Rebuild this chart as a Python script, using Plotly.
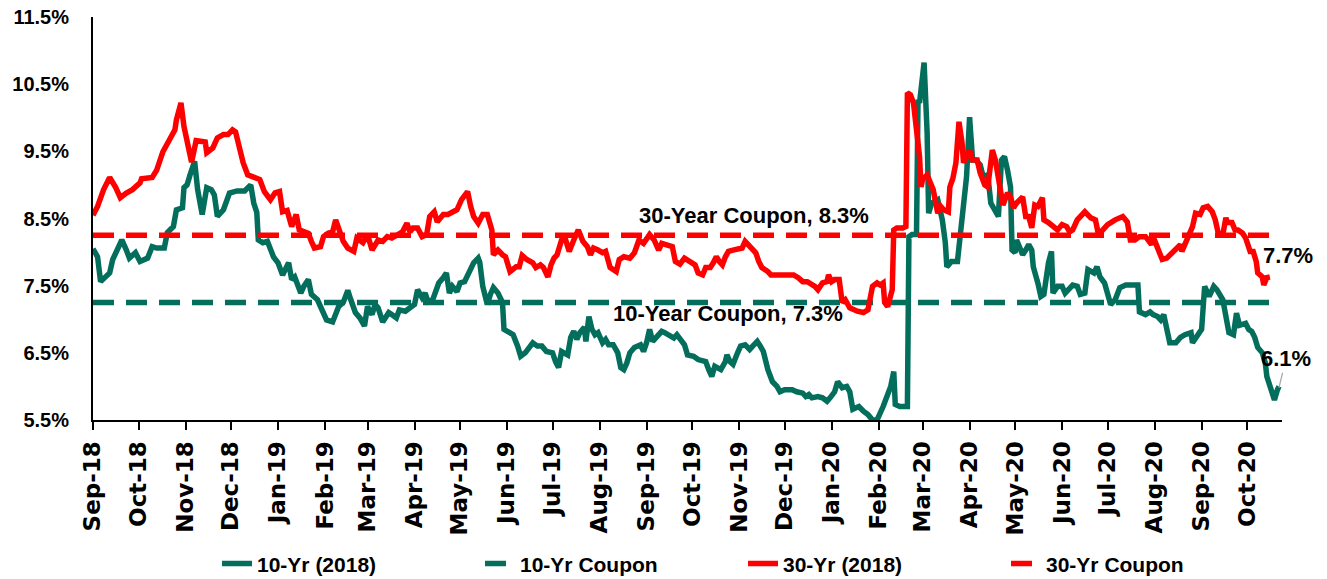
import pandas as pd
import plotly.graph_objects as go

# ---------------- data ----------------
start_date = "2018-09-01"
axis_end_day = 784

# 10-Yr (2018) yield, (days since start_date, yield %)
ten_yr_points = [
    (0,8.05),(3,7.93),(5,7.56),(8,7.62),(11,7.69),(13,7.89),(16,8.03),(19,8.18),(22,8.03),(24,7.91),
    (28,7.99),(31,7.86),(36,7.91),(39,8.08),(42,8.06),(47,8.06),(49,8.29),(53,8.38),(55,8.63),(59,8.66),
    (60,8.96),(62,9.00),(64,9.15),(67,9.35),(69,8.93),(72,8.56),(75,8.96),(78,8.93),(80,8.85),(82,8.53),
    (86,8.63),(90,8.88),(95,8.91),(100,8.91),(104,9.00),(106,8.73),(108,8.59),(109,8.18),(112,8.14),(115,8.16),
    (119,7.93),(122,7.84),(125,7.66),(129,7.84),(131,7.59),(133,7.63),(137,7.39),(139,7.49),(142,7.59),(144,7.37),
    (148,7.29),(151,7.14),(154,6.99),(158,6.96),(162,7.19),(165,7.25),(168,7.43),(170,7.29),(173,7.10),(176,7.02),
    (179,6.90),(181,7.19),(184,7.07),(186,7.22),(188,7.17),(191,6.96),(195,7.10),(197,7.07),(200,7.02),(202,7.14),
    (206,7.12),(209,7.17),(212,7.22),(214,7.44),(217,7.32),(219,7.39),(221,7.26),(224,7.29),(228,7.54),(231,7.62),
    (233,7.69),(235,7.39),(237,7.49),(240,7.41),(242,7.54),(245,7.56),(249,7.74),(251,7.84),(254,7.91),(255,7.85),
    (257,7.49),(260,7.22),(262,7.37),(264,7.47),(267,7.39),(270,7.25),(271,6.85),(274,6.82),(277,6.77),(280,6.60),
    (282,6.45),(285,6.50),(288,6.58),(290,6.65),(293,6.60),(296,6.60),(299,6.52),(303,6.50),(305,6.37),(307,6.28),
    (309,6.52),(313,6.47),(315,6.73),(317,6.82),(319,6.70),(321,6.80),(324,6.88),(325,6.67),(327,7.04),(329,6.85),
    (331,6.77),(333,6.80),(336,6.65),(338,6.70),(340,6.62),(343,6.62),(346,6.50),(348,6.28),(350,6.25),(352,6.35),
    (354,6.50),(357,6.58),(361,6.62),(363,6.52),(365,6.65),(367,6.85),(369,6.67),(372,6.74),(375,6.82),(377,6.80),
    (381,6.74),(383,6.72),(385,6.77),(387,6.70),(390,6.62),(392,6.47),(396,6.45),(399,6.40),(404,6.37),(406,6.25),
    (408,6.15),(410,6.30),(414,6.25),(417,6.37),(418,6.47),(420,6.37),(422,6.33),(425,6.50),(427,6.60),(430,6.62),
    (433,6.55),(435,6.60),(438,6.67),(440,6.60),(442,6.52),(445,6.25),(448,6.07),(451,6.00),(453,5.92),(456,5.95),
    (461,5.95),(464,5.92),(468,5.90),(470,5.85),(472,5.88),(474,5.83),(478,5.85),(481,5.83),(484,5.78),(486,5.83),
    (489,5.92),(491,6.07),(494,5.98),(497,6.00),(499,5.92),(501,5.66),(505,5.70),(508,5.63),(511,5.58),(514,5.50),
    (517,5.50),(521,5.70),(524,5.90),(526,6.00),(528,6.22),(529,5.73),(532,5.70),(537,5.70),(538,8.23),(540,8.26),
    (543,8.26),(544,10.27),(545,10.22),(548,10.82),(550,9.78),(551,8.58),(553,8.73),(555,8.75),(557,8.78),(560,8.48),
    (562,8.14),(563,7.78),(566,7.86),(570,7.86),(572,8.23),(574,8.75),(576,9.12),(578,10.01),(580,9.37),(582,9.37),
    (585,9.30),(587,9.12),(590,9.15),(592,8.73),(595,8.63),(597,8.53),(599,9.37),(601,9.42),(603,9.22),(605,8.97),
    (606,8.03),(608,7.99),(609,8.18),(613,7.96),(615,8.03),(617,8.11),(619,8.03),(620,7.78),(623,7.54),(625,7.34),
    (627,7.37),(629,7.74),(630,7.84),(632,8.01),(633,7.39),(636,7.49),(639,7.49),(641,7.39),(646,7.51),(649,7.49),
    (651,7.37),(654,7.39),(656,7.74),(660,7.69),(662,7.78),(664,7.63),(667,7.54),(671,7.22),(674,7.29),(677,7.47),
    (681,7.51),(685,7.51),(689,7.51),(690,7.11),(694,7.07),(697,7.11),(699,7.07),(702,7.04),(704,6.99),(706,7.07),
    (708,6.89),(710,6.65),(714,6.65),(717,6.73),(720,6.77),(724,6.80),(725,6.65),(728,6.77),(731,6.85),(733,7.49),
    (736,7.34),(739,7.49),(741,7.44),(745,7.29),(747,7.09),(749,6.80),(752,6.77),(754,7.09),(756,6.91),(760,6.94),
    (762,6.85),(764,6.82),(766,6.73),(768,6.58),(771,6.50),(773,6.35),(774,6.15),(776,5.98),(779,5.80),(781,5.95),
    (782,6.00),
]

# 30-Yr (2018) yield, (days since start_date, yield %)
thirty_yr_points = [
    (0,8.55),(3,8.68),(7,8.93),(11,9.11),(15,8.96),(18,8.81),(22,8.88),(26,8.93),(31,9.03),(32,9.09),
    (39,9.11),(42,9.22),(46,9.49),(51,9.72),(54,9.82),(55,9.97),(58,10.22),(60,9.87),(62,9.66),(65,9.34),
    (68,9.66),(71,9.66),(74,9.64),(75,9.48),(79,9.55),(82,9.70),(86,9.75),(89,9.75),(92,9.82),(94,9.79),
    (97,9.52),(99,9.33),(102,9.15),(106,9.12),(110,9.08),(113,8.90),(117,8.78),(120,8.88),(123,8.90),(125,8.60),
    (128,8.62),(131,8.38),(134,8.56),(136,8.33),(140,8.30),(142,8.28),(144,8.16),(146,8.06),(150,8.08),(152,8.23),
    (155,8.28),(158,8.30),(160,8.48),(163,8.28),(165,8.16),(168,8.06),(172,8.01),(174,8.21),(178,8.14),(181,8.26),
    (184,8.03),(188,8.18),(191,8.16),(194,8.23),(197,8.21),(201,8.26),(204,8.30),(207,8.43),(209,8.30),(211,8.36),
    (214,8.36),(217,8.23),(220,8.26),(222,8.53),(225,8.60),(227,8.45),(231,8.56),(234,8.56),(237,8.60),(240,8.63),
    (243,8.78),(247,8.90),(249,8.68),(251,8.53),(254,8.43),(257,8.56),(260,8.56),(263,8.33),(264,7.96),(267,8.03),
    (270,7.96),(272,7.93),(275,7.71),(279,7.78),(281,7.78),(283,7.95),(286,7.89),(290,7.84),(292,7.77),(295,7.81),
    (297,7.77),(300,7.63),(302,7.81),(304,7.91),(306,7.96),(309,8.18),(311,8.23),(314,8.01),(317,8.18),(320,8.33),
    (323,8.16),(326,8.08),(328,7.96),(330,8.06),(333,8.03),(336,7.99),(338,8.01),(341,7.77),(345,7.71),(347,7.89),
    (350,7.93),(354,7.91),(357,7.99),(360,8.18),(363,8.13),(365,8.18),(367,8.26),(370,8.18),(373,8.03),(375,8.13),
    (379,8.11),(382,8.08),(384,7.86),(387,7.82),(390,7.91),(394,7.84),(397,7.81),(399,7.69),(402,7.66),(404,7.77),
    (407,7.77),(409,7.84),(411,7.93),(413,7.86),(415,7.81),(417,7.93),(419,8.01),(422,8.03),(426,8.05),(428,8.06),
    (430,8.16),(433,8.08),(437,7.99),(439,7.86),(441,7.77),(445,7.71),(447,7.66),(451,7.66),(455,7.66),(459,7.66),
    (462,7.66),(465,7.62),(468,7.56),(471,7.56),(473,7.54),(476,7.49),(478,7.44),(481,7.54),(484,7.56),(485,7.66),
    (487,7.56),(489,7.59),(492,7.59),(494,7.25),(496,7.29),(499,7.17),(504,7.12),(508,7.10),(511,7.14),(512,7.30),
    (514,7.49),(517,7.54),(519,7.51),(521,7.54),(522,7.25),(524,7.19),(527,7.44),(528,8.33),(530,8.36),(534,8.36),
    (536,8.38),(537,10.37),(539,10.34),(541,10.22),(543,9.82),(545,9.42),(546,8.97),(547,9.08),(550,9.15),(552,9.05),
    (554,8.93),(557,8.58),(559,8.68),(561,8.63),(564,8.60),(565,8.97),(567,9.10),(569,9.33),(570,9.57),(571,9.94),
    (573,9.63),(574,9.33),(576,9.42),(578,9.52),(580,9.37),(583,9.37),(585,9.18),(588,9.00),(590,8.97),(593,9.52),
    (595,9.37),(597,9.10),(599,8.93),(600,8.70),(603,8.88),(605,8.82),(607,8.66),(609,8.73),(613,8.82),(615,8.53),
    (617,8.53),(619,8.36),(621,8.70),(623,8.68),(626,8.81),(627,8.48),(630,8.44),(633,8.38),(636,8.33),(639,8.41),
    (642,8.38),(644,8.30),(646,8.33),(649,8.48),(654,8.60),(658,8.51),(661,8.48),(663,8.26),(666,8.33),(669,8.41),
    (674,8.48),(679,8.53),(682,8.45),(684,8.18),(687,8.18),(690,8.23),(694,8.23),(696,8.16),(698,8.11),(699,8.23),
    (702,8.06),(705,7.89),(708,7.91),(712,7.99),(715,8.06),(717,8.11),(718,8.01),(721,8.18),(725,8.38),(727,8.58),
    (730,8.56),(732,8.66),(735,8.68),(738,8.60),(740,8.48),(742,8.28),(745,8.26),(747,8.51),(748,8.44),(751,8.44),
    (753,8.33),(755,8.33),(758,8.28),(760,8.21),(762,8.08),(763,8.01),(765,8.01),(767,7.86),(768,7.69),(771,7.63),
    (772,7.51),(774,7.62),(776,7.63),
]

ten_yr_coupon = 7.25
thirty_yr_coupon = 8.25
coupon_days = [0, 777]

series_names = ["10-Yr (2018)", "10-Yr Coupon", "30-Yr (2018)", "30-Yr Coupon"]
label_30_coupon = "30-Year Coupon, 8.3%"
label_10_coupon = "10-Year Coupon, 7.3%"
label_30_last = "7.7%"
label_10_last = "6.1%"

y_min, y_max = 5.5, 11.5

# ---------------- build ----------------
t0 = pd.Timestamp(start_date)
to_dates = lambda days: [t0 + pd.Timedelta(days=int(d)) for d in days]

ten_x = to_dates([p[0] for p in ten_yr_points]); ten_y = [p[1] for p in ten_yr_points]
thirty_x = to_dates([p[0] for p in thirty_yr_points]); thirty_y = [p[1] for p in thirty_yr_points]
coupon_x = to_dates(coupon_days)

GREEN = "#046E5C"
RED = "#FF0000"
DASH = "21px,12px"
FONT = "Liberation Sans, Arial, sans-serif"
LW = 5.5

fig = go.Figure()
fig.add_trace(go.Scatter(x=ten_x, y=ten_y, mode="lines", name=series_names[0],
                         line=dict(color=GREEN, width=LW)))
fig.add_trace(go.Scatter(x=coupon_x, y=[ten_yr_coupon]*2, mode="lines", name=series_names[1],
                         line=dict(color=GREEN, width=LW, dash=DASH)))
fig.add_trace(go.Scatter(x=thirty_x, y=thirty_y, mode="lines", name=series_names[2],
                         line=dict(color=RED, width=LW)))
fig.add_trace(go.Scatter(x=coupon_x, y=[thirty_yr_coupon]*2, mode="lines", name=series_names[3],
                         line=dict(color=RED, width=LW, dash=DASH)))

ann_font = dict(family=FONT, size=22, color="black", weight="bold")
fig.add_annotation(xref="paper", yref="y", x=0.556, xanchor="center", y=thirty_yr_coupon + 0.29,
                   text=label_30_coupon, showarrow=False, font=ann_font)
fig.add_annotation(xref="paper", yref="y", x=0.534, xanchor="center", y=ten_yr_coupon - 0.17,
                   text=label_10_coupon, showarrow=False, font=ann_font)
fig.add_annotation(xref="paper", yref="y", x=1.005, xanchor="center", y=thirty_y[-1] + 0.32,
                   text=label_30_last, showarrow=False, font=ann_font)
fig.add_annotation(x=ten_x[-1], y=ten_y[-1] - 0.02, text=label_10_last, showarrow=True,
                   arrowhead=0, arrowwidth=1.2, arrowcolor="#A6A6A6", ax=7, ay=-29,
                   standoff=0, font=ann_font)

fig.update_layout(
    width=1327, height=579,
    margin=dict(l=93, r=45, t=17, b=159, autoexpand=False),
    paper_bgcolor="white", plot_bgcolor="white",
    font=dict(family=FONT, color="black"),
    showlegend=True,
    legend=dict(orientation="h", x=0.1043, xanchor="left", y=-0.357, yanchor="middle",
                font=dict(family=FONT, size=21, color="black", weight="bold"),
                entrywidth=218, entrywidthmode="pixels", itemwidth=30,
                bgcolor="rgba(0,0,0,0)", borderwidth=0, tracegroupgap=0),
    hovermode=False,
)
fig.update_xaxes(
    type="date", range=[t0, t0 + pd.Timedelta(days=axis_end_day)],
    tick0=start_date, dtick="M1", tickformat="%b-%y", tickangle=-90,
    ticks="outside", ticklen=8, tickwidth=2, tickcolor="black",
    showline=True, linecolor="black", linewidth=2, showgrid=False, zeroline=False,
    tickfont=dict(family="DejaVu Sans, sans-serif", size=23, color="black", weight="bold"),
    ticklabelstandoff=2,
)
fig.update_yaxes(
    range=[y_min, y_max], tick0=5.5, dtick=1.0, tickformat=".1f", ticksuffix="%",
    ticks="", showline=True, linecolor="black", linewidth=2, showgrid=False, zeroline=False,
    tickfont=dict(family=FONT, size=20, color="black", weight="bold"),
    ticklabelstandoff=18,
)

fig.write_html("out.html", config={"displayModeBar": False},
               post_script="document.body.style.margin='0';")
